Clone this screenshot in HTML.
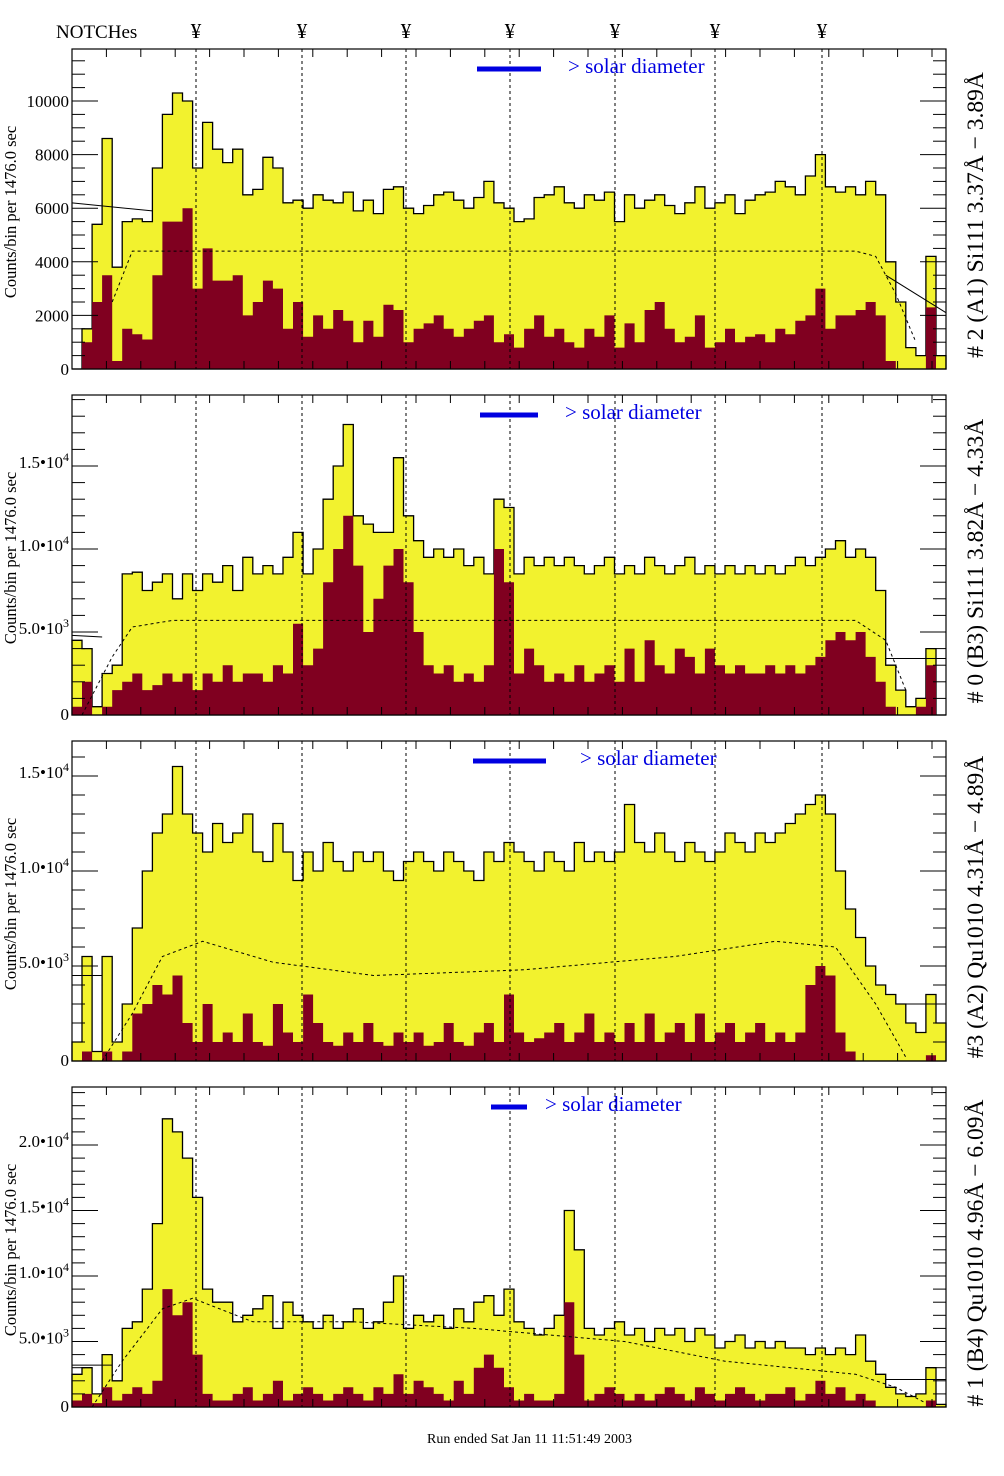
<!DOCTYPE html>
<html><head><meta charset="utf-8"><style>
body{margin:0;background:#fff}
svg{display:block}
text{font-family:"Liberation Serif",serif}
</style></head><body>
<svg id="chart" width="1004" height="1476" viewBox="0 0 1004 1476" xmlns="http://www.w3.org/2000/svg">
<text x="56" y="38" font-size="19">NOTCHes</text>
<g id="notchMarks"></g>
<g id="panels"></g>
<text x="427" y="1443" font-size="14">Run ended Sat Jan 11 11:51:49 2003</text>
</svg>
<script>
const notchX = [196, 302, 406, 510, 615, 715, 822];
const binsP1Yellow = [0,1.5,5.4,8.6,3.8,5.5,5.6,5.5,7.5,9.5,10.3,10,7.5,9.2,8.2,7.7,8.2,6.5,6.7,7.9,7.5,6.2,6.3,6.0,6.5,6.3,6.2,6.6,5.9,6.3,5.8,6.7,6.8,6.0,5.8,6.1,6.5,6.6,6.3,6.0,6.4,7.0,6.2,6.0,5.5,5.6,6.4,6.5,6.8,6.2,6.0,6.5,6.3,6.6,5.5,6.5,6.0,6.3,6.5,6.1,5.8,6.2,6.8,6.0,6.2,6.5,5.8,6.3,6.5,6.6,7.0,6.8,6.5,7.2,8.0,6.8,6.6,6.8,6.5,7.0,6.5,4.0,2.5,0.8,0.5,4.2,0.5];
const binsP1Maroon = [0,1,2.5,3.5,0.3,1.5,1.3,1.1,3.5,5.5,5.5,6.0,3.0,4.5,3.3,3.3,3.5,2.0,2.5,3.3,3.0,1.5,2.5,1.2,2.0,1.5,2.2,1.8,1.0,1.8,1.2,2.4,2.2,1.0,1.5,1.7,2.0,1.5,1.2,1.5,1.8,2.0,1.0,1.3,0.8,1.5,2.0,1.2,1.5,1.0,0.8,1.5,1.2,2.0,0.8,1.7,1.0,2.2,2.5,1.5,1.0,1.2,2.0,0.8,1.0,1.5,1.0,1.2,1.3,1.0,1.5,1.3,1.8,2.0,3.0,1.5,2.0,2.0,2.2,2.5,2.0,0.3,0,0,0,2.3,0];
const binsP2Yellow = [4.5,4.0,0.5,2.5,3.0,8.5,8.6,7.5,8.0,8.5,7.0,8.5,7.5,8.5,8.0,9.0,7.5,9.5,8.5,9.0,8.5,9.5,11.0,8.5,10.0,13.0,15.0,17.5,12.0,11.5,11.0,11.0,15.5,12.0,10.5,9.5,10.0,9.5,10.0,9.0,9.5,8.5,13.0,12.5,8.5,9.5,9.0,9.5,9.0,9.5,9.0,8.5,9.0,9.5,8.5,9.0,8.5,9.5,9.0,8.5,9.0,9.5,8.5,9.0,8.5,9.0,8.5,9.0,8.5,9.0,8.5,9.0,9.5,9.0,9.5,10.0,10.5,9.5,10.0,9.5,7.5,3.0,1.5,0.5,1.0,4.0,0];
const binsP2Maroon = [0.5,2.0,0,0.5,1.5,2.0,2.5,1.5,1.8,2.5,2.0,2.5,1.5,2.5,2.0,3.0,2.0,2.5,2.5,2.0,3.0,2.5,5.5,3.0,4.0,8.0,10.0,12.0,9.0,5.0,7.0,9.0,10.0,8.0,5.0,3.0,2.5,3.0,2.0,2.5,2.0,3.0,10.0,8.0,2.5,4.0,3.0,2.0,2.5,2.0,3.0,2.0,2.5,3.0,2.0,4.0,2.0,4.5,3.0,2.5,4.0,3.5,2.5,4.0,3.0,2.5,3.0,2.5,2.5,3.0,2.5,3.0,2.5,3.0,3.5,4.5,5.0,4.5,5.0,3.5,2.0,0.5,0,0,0.5,3.0,0];
const binsP3Yellow = [1.0,5.5,0.5,5.5,1.0,3.0,7.0,10.0,12.0,13.0,15.5,13.0,12.0,11.0,12.5,11.5,12.0,13.0,11.0,10.5,12.5,11.0,9.5,11.0,10.0,11.5,10.5,10.0,11.0,10.5,11.0,10.0,9.5,10.5,11.0,10.5,10.0,11.0,10.5,10.0,9.5,11.0,10.5,11.5,11.0,10.5,10.0,11.0,10.5,10.0,11.5,10.5,11.0,10.5,11.0,13.5,11.5,11.0,12.0,11.0,10.5,11.5,11.0,10.5,11.0,12.0,11.5,11.0,12.0,11.5,12.0,12.5,13.0,13.5,14.0,13.0,10.0,8.0,6.5,5.0,4.0,3.5,3.0,2.0,1.5,3.5,2.0];
const binsP3Maroon = [0,0.5,0,0.5,0,0.5,2.5,3.0,4.0,3.5,4.5,2.0,1.0,3.0,1.0,1.5,1.0,2.5,1.0,0.8,3.0,1.5,1.0,3.5,2.0,1.0,0.8,1.5,1.0,2.0,1.0,0.8,1.5,1.0,1.5,0.8,1.0,2.0,1.0,0.8,1.5,2.0,1.0,3.5,1.5,1.0,1.2,1.5,2.0,1.0,1.5,2.5,1.0,1.5,1.0,2.0,1.0,2.5,1.0,1.5,2.0,1.0,2.5,1.0,1.5,2.0,1.0,1.5,2.0,1.0,1.5,1.0,1.5,4.0,5.0,4.5,1.5,0.5,0,0,0,0,0,0,0,0.3,0];
const binsP4Yellow = [2.5,3.0,1.0,4.0,2.0,6.0,6.5,9.0,14.0,22.0,21.0,19.0,16.0,9.0,8.0,8.0,6.5,7.0,7.5,8.5,6.0,8.0,7.0,6.5,6.0,7.0,6.0,6.5,7.5,6.0,6.5,8.0,10.0,6.0,7.0,6.5,7.0,6.0,7.5,6.5,8.0,8.5,7.0,9.0,6.5,6.0,5.5,6.0,7.0,15.0,12.0,6.0,5.5,6.0,6.5,5.5,6.0,5.0,6.0,5.5,6.0,5.0,6.0,5.5,4.5,5.0,5.5,4.5,5.0,4.5,5.0,4.5,4.5,4.0,4.5,4.0,4.5,4.0,5.5,3.5,2.5,1.5,1.0,0.8,1.0,3.0,0.2];
const binsP4Maroon = [0.5,1.0,0.3,1.5,0.5,1.0,1.5,1.0,2.0,9.0,7.0,8.0,4.0,1.0,0.5,0.5,1.0,1.5,0.5,1.0,2.0,0.5,1.0,1.5,1.0,0.5,1.0,1.5,1.0,0.5,1.5,1.0,2.5,1.0,2.0,1.5,1.0,0.5,2.0,1.0,3.0,4.0,3.0,1.5,0.5,1.0,0.5,0.5,1.0,8.0,4.0,0.5,1.0,1.5,1.0,0.5,1.0,0.5,1.0,1.5,1.0,0.5,1.5,1.0,0.5,1.0,1.5,1.0,0.5,1.0,1.0,1.5,0.5,1.0,2.0,1.0,1.5,0.5,1.0,0.5,0,0,0,0,0,0.5,0];
const avgP1 = [[4,2.5],[6,4.4],[20,4.4],[50,4.4],[78,4.4],[80,4.2],[82,2.8],[84,1.0]];
const avgP2 = [[1,0],[4,3.5],[6,5.3],[10,5.7],[50,5.7],[78,5.7],[81,4.5],[83,1.5]];
const avgP3 = [[3,0],[6,2.5],[9,5.5],[13,6.3],[20,5.2],[30,4.5],[45,4.8],[60,5.5],[70,6.3],[76,6.0],[80,3.0],[83,0.2]];
const avgP4 = [[2,0],[5,3.5],[9,7.5],[12,8.3],[18,6.5],[28,6.5],[40,6.0],[55,5.0],[65,3.5],[78,2.5],[82,1.5],[85,0.3]];
const yTicksP1 = ["0","2000","4000","6000","8000","10000"];
const yTickValsP1 = [0,2,4,6,8,10];
const yTickValsE = [0,5,10,15,20];
const titles = ["# 2 (A1) Si111  3.37\u00c5 \u2212 3.89\u00c5","# 0 (B3) Si111  3.82\u00c5 \u2212 4.33\u00c5","#3 (A2) Qu1010  4.31\u00c5 \u2212 4.89\u00c5","# 1 (B4) Qu1010 4.96\u00c5 \u2212 6.09\u00c5"];

const NS="http://www.w3.org/2000/svg";
const X0=72, X1=946, NB=87, BW=(X1-X0)/NB;
function xOf(i){return X0+i*BW;}
function mk(tag,attrs,parent){const e=document.createElementNS(NS,tag);for(const k in attrs)e.setAttribute(k,attrs[k]);parent.appendChild(e);return e;}

const panels=[
 {top:49,bot:369,ppk:26.8,yel:binsP1Yellow,mar:binsP1Maroon,avg:avgP1,max:11.9,minor:0.5,major:2,leg:[477,541,568],fit:[[0,6.2],[8,5.9]],fit2:[[81,3.5],[87,2.1]]},
 {top:395,bot:715,ppk:16.6,yel:binsP2Yellow,mar:binsP2Maroon,avg:avgP2,max:19.2,minor:1,major:5,leg:[480,538,565],fit:[[0,4.8],[3,4.7]],fit2:[[81,3.4],[87,3.4]]},
 {top:741,bot:1061,ppk:19,yel:binsP3Yellow,mar:binsP3Maroon,avg:avgP3,max:16.8,minor:1,major:5,leg:[473,546,580],fit:[[0,4.5],[3,4.5]],fit2:[[83,3.0],[87,3.0]]},
 {top:1087,bot:1407,ppk:13.1,yel:binsP4Yellow,mar:binsP4Maroon,avg:avgP4,max:24.4,minor:1,major:5,leg:[491,527,545],fit:[[0,3.2],[4,3.2]],fit2:[[81,2.1],[87,2.1]]}
];

const root=document.getElementById('panels');
const nm=document.getElementById('notchMarks');
notchX.forEach(x=>{const t=mk('text',{x:x,y:38,'font-size':21,'text-anchor':'middle'},nm);t.textContent='\u00a5';
 
 });

panels.forEach((p,pi)=>{
 const g=mk('g',{},root);
 
 
 const yOf=v=>p.bot-v*p.ppk;
 function hist(arr,fill,stroke,name){
  let d='M'+X0+','+p.bot;
  arr.forEach((v,i)=>{const y=Math.max(yOf(v),p.top);d+=' L'+xOf(i).toFixed(1)+','+y.toFixed(1)+' L'+xOf(i+1).toFixed(1)+','+y.toFixed(1);});
  d+=' L'+X1+','+p.bot+' Z';
  const e=mk('path',{d:d,fill:fill,stroke:stroke,'stroke-width':1.3},g);
  
  
 }
 hist(p.yel,'#f2f22e','#000','total-counts-histogram');
 hist(p.mar,'#800020','none','flare-counts-histogram');
 let d='';p.avg.forEach((k,i)=>{d+=(i?' L':'M')+xOf(k[0]).toFixed(1)+','+yOf(k[1]).toFixed(1);});
 const av=mk('path',{d:d,fill:'none',stroke:'#000','stroke-width':1,'stroke-dasharray':'3,3'},g);
 
 
 [p.fit,p.fit2].forEach(f=>{const l=mk('line',{x1:xOf(f[0][0]),y1:yOf(f[0][1]),x2:xOf(f[1][0]),y2:yOf(f[1][1]),stroke:'#000','stroke-width':1},g);
  
  });
 notchX.forEach(x=>{const l=mk('line',{x1:x,y1:p.top,x2:x,y2:p.bot,stroke:'#000','stroke-width':1,'stroke-dasharray':'3,3'},g);
  
  });
 const fr=mk('rect',{x:X0,y:p.top,width:X1-X0,height:p.bot-p.top,fill:'none',stroke:'#000','stroke-width':1.2},g);
 
 
 for(let x=X0;x<=X1;x+=34.4){mk('line',{x1:x,y1:p.top,x2:x,y2:p.top+8,stroke:'#000'},g);mk('line',{x1:x,y1:p.bot,x2:x,y2:p.bot-8,stroke:'#000'},g);}
 for(let v=0;v<=p.max+1e-6;v+=p.minor){const maj=Math.abs(v/p.major-Math.round(v/p.major))<1e-6;const L=maj?26:13;const y=yOf(v);
  mk('line',{x1:X0,y1:y,x2:X0+L,y2:y,stroke:'#000'},g);mk('line',{x1:X1,y1:y,x2:X1-L,y2:y,stroke:'#000'},g);}
 if(pi===0){yTickValsP1.forEach((v,i)=>{const t=mk('text',{x:69,y:yOf(v)+6,'font-size':17,'text-anchor':'end'},g);t.textContent=yTicksP1[i];
   
   });}
 else{yTickValsE.forEach(v=>{if(v>p.max)return;const t=mk('text',{x:69,y:yOf(v)+(v?2:5),'font-size':17,'text-anchor':'end'},g);
   if(v===0)t.textContent='0';else t.innerHTML=(v/10>=1?(v/10).toFixed(1):(v/1).toFixed(1))+'\u2022'+'10<tspan dy="-7" font-size="12">'+(v>=10?4:3)+'</tspan>';
   
   });}
 const yt=mk('text',{x:0,y:0,'font-size':16.5,'text-anchor':'middle',transform:'translate(16,'+((p.top+p.bot)/2+3)+') rotate(-90)'},g);
 yt.textContent='Counts/bin per   1476.0 sec';
 
 
 const rt=mk('text',{x:0,y:0,'font-size':23.5,'text-anchor':'middle',transform:'translate(983,'+((p.top+p.bot)/2+6)+') rotate(-90)'},g);
 rt.textContent=titles[pi];
 
 
 const lb=mk('line',{x1:p.leg[0],y1:p.top+20,x2:p.leg[1],y2:p.top+20,stroke:'#0000e0','stroke-width':5},g);
 
 
 const lt=mk('text',{x:p.leg[2],y:p.top+24,'font-size':21,fill:'#0000e0'},g);
 lt.textContent='> solar diameter';
 
 
});
</script>
</body></html>
